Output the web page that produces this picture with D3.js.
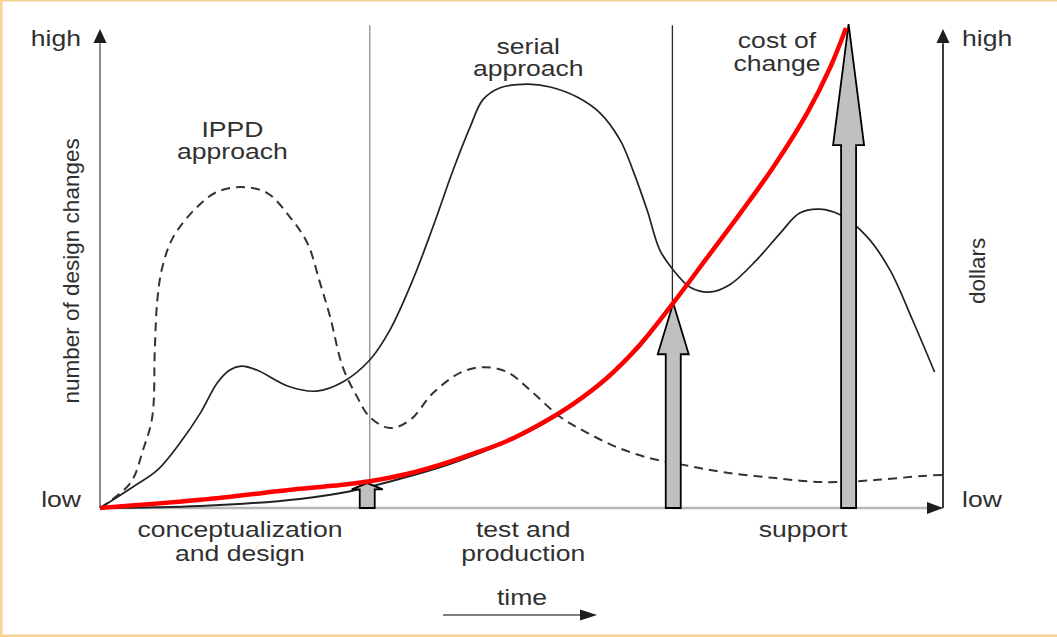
<!DOCTYPE html>
<html>
<head>
<meta charset="utf-8">
<script src="https://cdn.jsdelivr.net/npm/d3@7"></script>
<style>
  html, body { margin: 0; padding: 0; background: #fff; }
  svg text { font-family: "Liberation Sans", Arial, sans-serif; fill: #303030; }
</style>
</head>
<body>
<div id="chart"></div>
<script>
// time runs 0..100 along x, "number of changes" / "dollars" 0..100 along y

// serial approach (solid)
const serialTime = [0, 3.9, 6.8, 9.5, 11.9, 13.9, 15.4, 16.8, 18.6, 22.5, 25.7, 28.8, 32.0, 34.4, 37.1, 39.5,
    41.9, 43.9, 45.4, 47.4, 50.7, 53.4, 56.6, 59.3, 61.7, 63.2, 64.9, 66.4, 68.0, 70.0, 72.4, 74.7,
    77.9, 80.7, 83.0, 85.4, 87.8, 91.0, 93.7, 96.4, 99.0];
const serialChanges = [0, 4.4, 7.9, 13.6, 19.8, 26.1, 28.8, 29.6, 28.8, 25.3, 24.4, 26.3, 30.9, 37.2, 47.6, 58.7,
    70.6, 79.5, 85.2, 87.7, 88.5, 87.9, 85.8, 82.5, 76.8, 70.6, 62.2, 53.9, 49.7, 46.1, 45.1, 46.6,
    51.8, 57.4, 61.6, 62.4, 61.2, 56.6, 49.7, 39.2, 28.4];

// IPPD approach (dashed)
const ippdTime = [0, 3.6, 5.1, 6.2, 6.5, 6.8, 7.4, 8.7, 11.5, 13.9, 16.8, 19.8, 22.5, 24.6, 26.1, 27.3,
    28.8, 30.5, 32.0, 34.4, 36.8, 39.5, 42.7, 45.4, 48.3, 51.4, 54.6, 57.8, 61.3, 65.2, 69.2, 73.9,
    79.8, 85.8, 91.7, 97.6, 100];
const ippdChanges = [0, 5.2, 12.1, 19.0, 33.0, 43.4, 50.3, 56.6, 62.8, 66.0, 67.0, 65.8, 60.8, 55.3, 47.0, 39.9,
    29.4, 23.2, 19.0, 16.7, 18.4, 24.0, 28.2, 29.4, 28.4, 24.0, 19.0, 15.7, 12.7, 10.4, 9.0, 7.5,
    6.3, 5.4, 5.8, 6.7, 6.9];

// cost of change (red) and the printed curve beneath it
const costTime = [0, 11.9, 23.7, 28.5, 32.0, 36.4, 40.3, 44.2, 48.3, 52.2, 56.1, 60.1, 64.1, 68.0, 72.0,
    75.9, 79.8, 83.9, 86.6, 88.5];
const costDollars = [0, 1.7, 4.0, 4.8, 5.6, 7.1, 9.0, 11.3, 14.0, 17.5, 21.7, 27.1, 34.2, 42.8, 52.2,
    61.4, 71.0, 82.5, 91.9, 100.2];
const baseTime = [0, 11.9, 23.7, 29.7, 35.6, 41.5, 47.4, 53.4, 59.3, 64.1, 68.0];
const baseDollars = [0, 0.4, 1.9, 3.5, 6.1, 9.2, 13.2, 18.4, 25.7, 33.8, 43.0];

// cost arrows
const arrowTime = [31.7, 68.0, 88.8];
const arrowCost = [5.2, 42.8, 101.0];

// phase dividers
const phaseDividers = [32.0, 67.9];

const phaseLabels = [["conceptualization", "and design"], ["test and", "production"], ["support"]];
const phaseCenters = [16.6, 50.2, 83.4];
const curveLabels = [["IPPD", "approach"], ["serial", "approach"], ["cost of", "change"]];
const curveLabelTime = [15.7, 50.8, 80.3];
const curveLabelLevel = [77.5, 94.8, 96.0];
const endLabels = ["low", "high"];
const endLevels = [0.2, 96.5];

const W = 1057, H = 637;
const svg = d3.select("#chart").append("svg")
    .attr("width", W).attr("height", H);

// page frame
svg.append("rect").attr("x", 0).attr("y", 0).attr("width", W).attr("height", H).attr("fill", "#fff");
svg.append("rect").attr("x", 0).attr("y", 0).attr("width", 2.5).attr("height", H).attr("fill", "#f8d296");
svg.append("rect").attr("x", 0).attr("y", 0).attr("width", W).attr("height", 1.5).attr("fill", "#f8d296");
svg.append("rect").attr("x", 0).attr("y", 634.5).attr("width", W).attr("height", 2.5).attr("fill", "#f8d296");

const x = d3.scaleLinear().domain([0, 100]).range([100, 943]);
const y = d3.scaleLinear().domain([0, 100]).range([508, 29]);

const sx = 1.18;   // text is printed slightly wide
function wideText(g, tx, ty, str, anchor) {
    return g.append("text")
        .attr("transform", `translate(${tx},${ty}) scale(${sx},1)`)
        .attr("text-anchor", anchor || "middle")
        .style("font-size", "22.5px")
        .text(str);
}

// dividers
svg.selectAll(".divider")
    .data(phaseDividers)
    .enter().append("line")
    .attr("class", "divider")
    .attr("x1", d => x(d)).attr("x2", d => x(d))
    .attr("y1", y(100.8)).attr("y2", y(0))
    .attr("stroke", (d, i) => i === 0 ? "#8a8a8a" : "#2a2a2a")
    .attr("stroke-width", 1.3);

// axes
svg.append("line").attr("x1", x(0)).attr("x2", x(100)).attr("y1", y(0)).attr("y2", y(0))
    .attr("stroke", "#b8b8b8").attr("stroke-width", 2.5);
svg.append("line").attr("x1", x(0)).attr("x2", x(0)).attr("y1", y(0)).attr("y2", y(97))
    .attr("stroke", "#8a8a8a").attr("stroke-width", 2);
svg.append("line").attr("x1", x(100)).attr("x2", x(100)).attr("y1", y(0)).attr("y2", y(97))
    .attr("stroke", "#3a3a3a").attr("stroke-width", 2);

const heads = svg.append("g").attr("fill", "#1e1e1e");
[0, 100].forEach(t => {
    const px = x(t), py = y(100);
    heads.append("path").attr("d", `M${px},${py} L${px - 6.5},${py + 14} L${px + 6.5},${py + 14} Z`);
});
heads.append("path")
    .attr("d", `M${x(100)},${y(0)} L${x(100) - 16},${y(0) - 6} L${x(100) - 16},${y(0) + 6} Z`);

// curves
const line = d3.line().curve(d3.curveCatmullRom.alpha(0.5)).x(d => x(d[0])).y(d => y(d[1]));

svg.append("path")
    .datum(d3.zip(ippdTime, ippdChanges))
    .attr("d", line)
    .attr("fill", "none")
    .attr("stroke", "#333")
    .attr("stroke-width", 2)
    .attr("stroke-dasharray", "9,6");

svg.append("path")
    .datum(d3.zip(serialTime, serialChanges))
    .attr("d", line)
    .attr("fill", "none")
    .attr("stroke", "#222")
    .attr("stroke-width", 1.7);

svg.append("path")
    .datum(d3.zip(baseTime, baseDollars))
    .attr("d", line)
    .attr("fill", "none")
    .attr("stroke", "#222")
    .attr("stroke-width", 2);

// cost arrows (head = a quarter of the length)
svg.selectAll(".cost-arrow")
    .data(d3.zip(arrowTime, arrowCost))
    .enter().append("path")
    .attr("class", "cost-arrow")
    .attr("d", d => {
        const cx = x(d[0]), top = y(d[1]), base = y(0);
        const neck = top + (base - top) * 0.25;
        const sw = 7.5, hw = 15.5;
        return `M${cx - sw},${base} L${cx - sw},${neck} L${cx - hw},${neck} L${cx},${top}` +
            ` L${cx + hw},${neck} L${cx + sw},${neck} L${cx + sw},${base} Z`;
    })
    .attr("fill", "#c0c0c0")
    .attr("stroke", "#000")
    .attr("stroke-width", 1.8)
    .attr("stroke-linejoin", "miter");

svg.append("path")
    .datum(d3.zip(costTime, costDollars))
    .attr("d", line)
    .attr("fill", "none")
    .attr("stroke", "#ff0000")
    .attr("stroke-width", 4.5)
    .attr("stroke-linecap", "butt");

// labels
const labels = svg.append("g");
curveLabels.forEach((lines, i) => {
    lines.forEach((s, j) => wideText(labels, x(curveLabelTime[i]), y(curveLabelLevel[i]) + j * 22.5, s));
});
phaseLabels.forEach((lines, i) => {
    lines.forEach((s, j) => wideText(labels, x(phaseCenters[i]), 537 + j * 23.5, s));
});
endLabels.forEach((s, i) => {
    wideText(labels, x(0) - 19, y(endLevels[i]), s, "end");
    wideText(labels, x(100) + 19, y(endLevels[i]), s, "start");
});

// axis titles
labels.append("text")
    .attr("transform", `translate(79,${y(49.5)}) rotate(-90)`)
    .attr("text-anchor", "middle")
    .style("font-size", "22.5px")
    .text("number of design changes");
labels.append("text")
    .attr("transform", `translate(985,${y(49.5)}) rotate(-90)`)
    .attr("text-anchor", "middle")
    .style("font-size", "22.5px")
    .text("dollars");

// time arrow
wideText(labels, 522, 605, "time");
svg.append("line").attr("x1", 443).attr("x2", 584).attr("y1", 615).attr("y2", 615)
    .attr("stroke", "#555").attr("stroke-width", 1.5);
svg.append("path").attr("d", "M597,615 L580,609.5 L580,620.5 Z").attr("fill", "#1e1e1e");
</script>
</body>
</html>
